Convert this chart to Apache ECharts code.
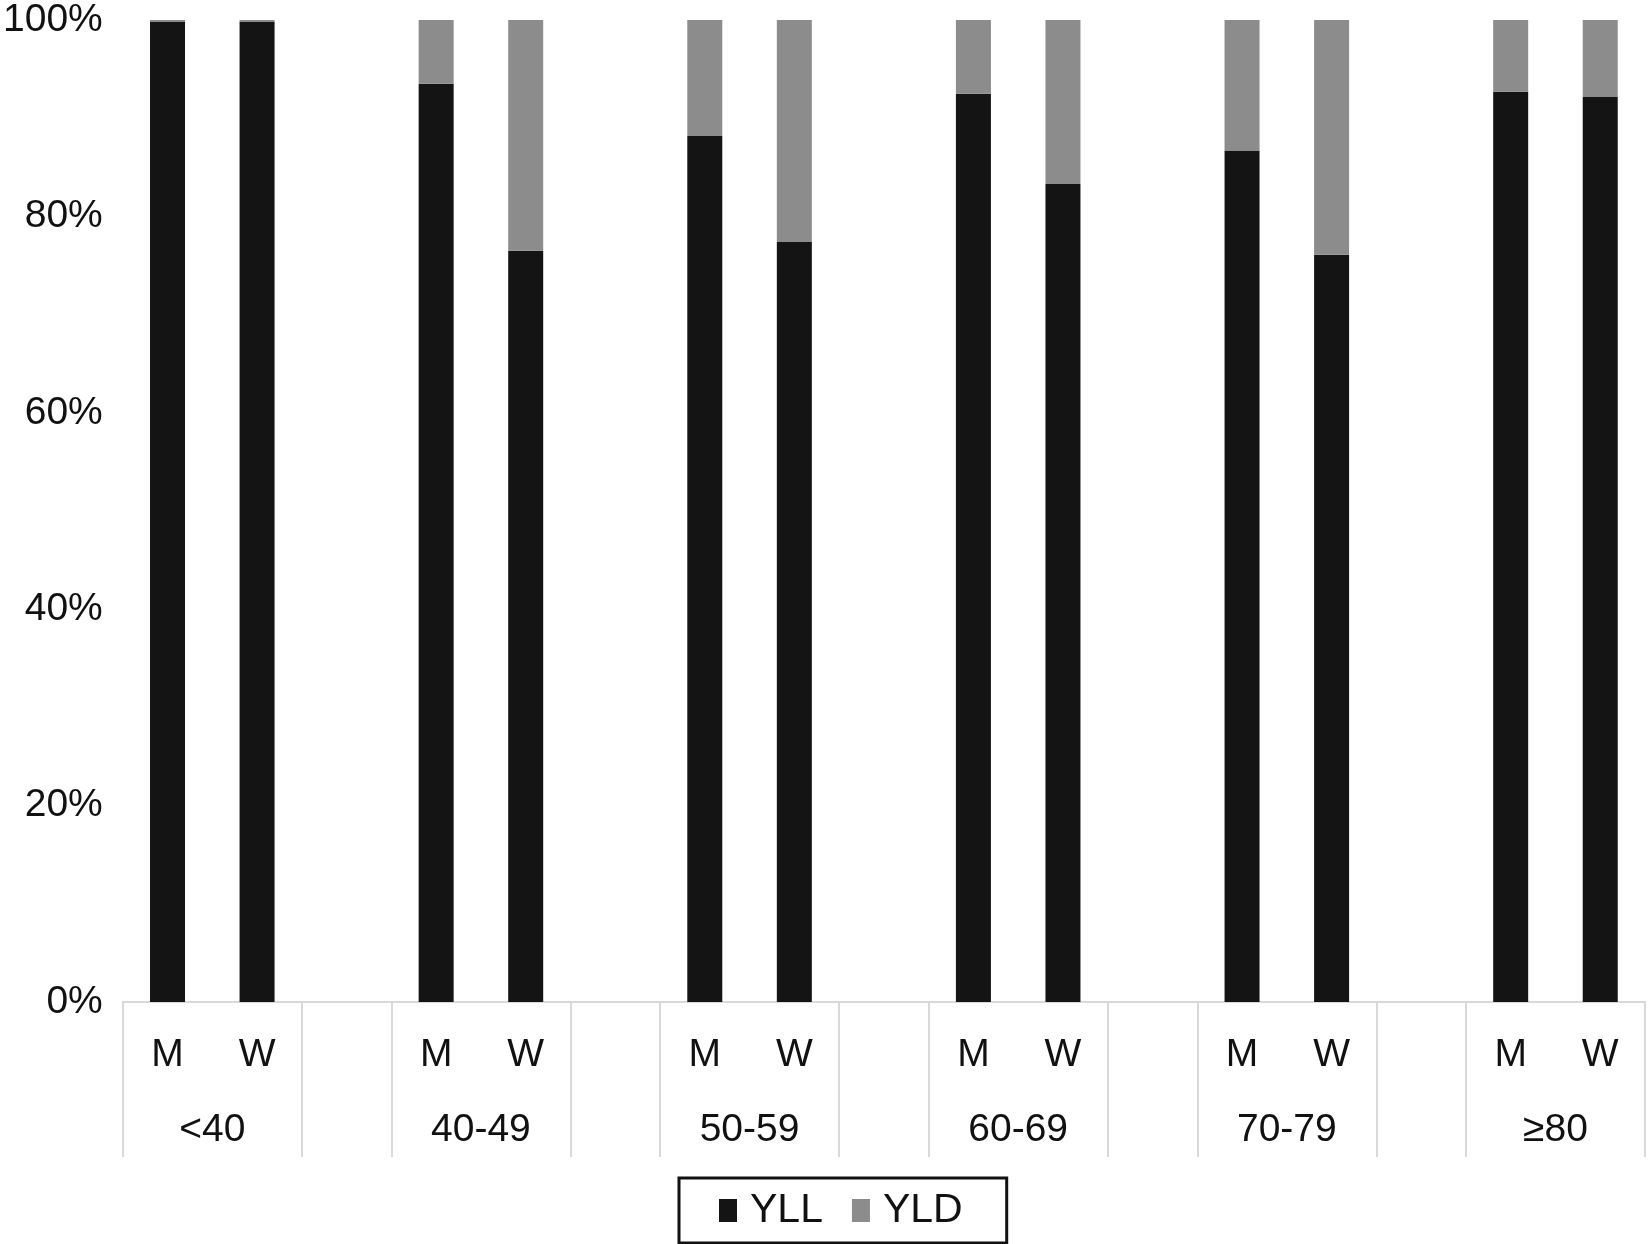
<!DOCTYPE html>
<html>
<head>
<meta charset="utf-8">
<script src="https://cdn.jsdelivr.net/npm/echarts@6/dist/echarts.min.js"></script>
<style>
html,body{margin:0;padding:0;background:#fff;}
#chart{width:1648px;height:1244px;}
</style>
</head>
<body>
<div id="chart"></div>
<script>
// ---- data ----
const ageGroups = ['<40', '40-49', '50-59', '60-69', '70-79', '≥80'];
const sexes = ['M', 'W'];
const yllMen   = [99.8, 93.5, 88.2, 92.5, 86.7, 92.7];
const yldMen   = [0.2, 6.5, 11.8, 7.5, 13.3, 7.3];
const yllWomen = [99.8, 76.5, 77.4, 83.3, 76.1, 92.2];
const yldWomen = [0.2, 23.5, 22.6, 16.7, 23.9, 7.8];
const yTicks = [0, 20, 40, 60, 80, 100];

// ---- build slot layout: M, W, (gap), M, W, (gap) ... ----
const slots = [], yllData = [], yldData = [];
ageGroups.forEach((g, i) => {
  slots.push(sexes[0]); yllData.push(yllMen[i]); yldData.push(yldMen[i]);
  slots.push(sexes[1]); yllData.push(yllWomen[i]); yldData.push(yldWomen[i]);
  if (i < ageGroups.length - 1) { slots.push(' ' + i); yllData.push('-'); yldData.push('-'); }
});
// boundaries (slots+1 points) for the group label axis
const bounds = [], sepIdx = new Set();
ageGroups.forEach((g, i) => { sepIdx.add(i * 3); sepIdx.add(i * 3 + 2); });
for (let k = 0; k <= slots.length; k++) bounds.push('b' + k);
const groupCenter = {};
ageGroups.forEach((g, i) => { groupCenter[i * 3 + 1] = g; });

const font = '"Liberation Sans", Arial, sans-serif';
const chart = echarts.init(document.getElementById('chart'));
chart.setOption({
  animation: false,
  backgroundColor: '#fff',
  grid: { left: 122, right: 0, top: 20, bottom: 242, containLabel: false },
  legend: {
    data: ['YLL', 'YLD'],
    left: 679, top: 1178,
    padding: [12, 44, 12, 40],
    borderColor: '#111', borderWidth: 3,
    itemWidth: 18, itemHeight: 23, itemGap: 29,
    icon: 'rect',
    textStyle: { fontFamily: font, fontSize: 41, color: '#111', padding: [0, 0, 0, 8] }
  },
  xAxis: [
    {
      type: 'category', data: slots, position: 'bottom',
      axisLine: { show: true, lineStyle: { color: '#d9d9d9', width: 2 } },
      axisTick: { show: false },
      axisLabel: {
        interval: 0, margin: 34, fontFamily: font, fontSize: 39, color: '#111',
        formatter: v => (v === 'M' || v === 'W') ? v : ''
      },
      splitLine: { show: false }
    },
    {
      type: 'category', data: bounds, boundaryGap: false, position: 'bottom',
      axisLine: { show: false },
      axisTick: {
        show: true, length: 155,
        interval: (idx) => sepIdx.has(idx) || idx === slots.length,
        lineStyle: { color: '#d9d9d9', width: 2 }
      },
      axisLabel: {
        interval: 0, margin: 109, fontFamily: font, fontSize: 39, color: '#111',
        formatter: (v, idx) => groupCenter[idx] || ''
      },
      splitLine: { show: false }
    }
  ],
  yAxis: {
    type: 'value', min: 0, max: 100, interval: 20,
    axisLine: { show: false }, axisTick: { show: false }, splitLine: { show: false },
    axisLabel: {
      margin: 20, fontFamily: font, fontSize: 39, color: '#111',
      formatter: v => yTicks.includes(v) ? v + '%' : ''
    }
  },
  series: [
    { name: 'YLL', type: 'bar', stack: 'a', xAxisIndex: 0, data: yllData, barWidth: 35,
      itemStyle: { color: '#141414' } },
    { name: 'YLD', type: 'bar', stack: 'a', xAxisIndex: 0, data: yldData, barWidth: 35,
      itemStyle: { color: '#8c8c8c' } }
  ]
});
</script>
</body>
</html>
